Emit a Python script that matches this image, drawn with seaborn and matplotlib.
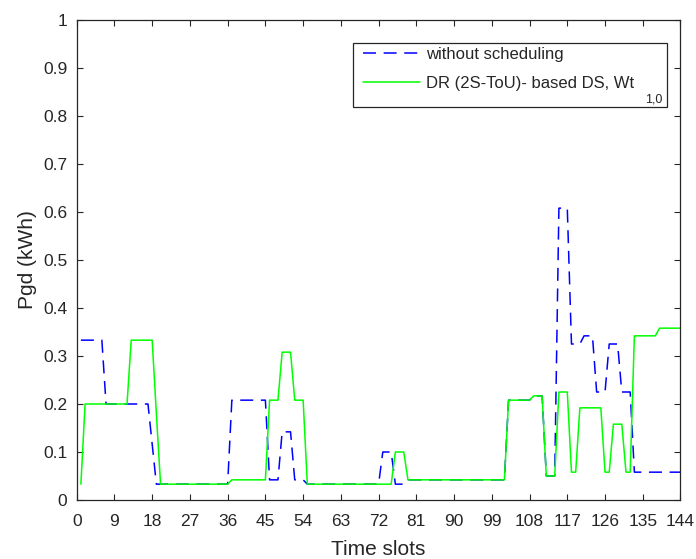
import numpy as np
import pandas as pd
import matplotlib
matplotlib.use("Agg")
import matplotlib.pyplot as plt
from matplotlib.patches import Rectangle
import seaborn as sns

# Time slots (10-minute resolution over one day)
slots = list(range(1, 145))

# Grid power demand without any scheduling (kWh)
pgd_unscheduled = (
    [0.333] * 6 + [0.2] * 11 + [0.117] + [0.033] * 18 + [0.208] * 9
    + [0.042] * 3 + [0.142] * 3 + [0.042] * 3 + [0.033] * 18 + [0.1] * 3
    + [0.033] * 3 + [0.042] * 24 + [0.208] * 6 + [0.217] * 3 + [0.05] * 3
    + [0.608] * 3 + [0.325] * 3 + [0.342] * 3 + [0.225] * 3 + [0.325] * 3
    + [0.225] * 3 + [0.058] * 12
)

# Grid power demand with DR (2S-ToU) based demand scheduling (kWh)
pgd_dr = (
    [0.033] + [0.2] * 11 + [0.333] * 6 + [0.18] + [0.033] * 17 + [0.042] * 9
    + [0.208] * 3 + [0.308] * 3 + [0.208] * 3 + [0.033] * 21 + [0.1] * 3
    + [0.042] * 24 + [0.208] * 6 + [0.217] * 3 + [0.05] * 3 + [0.225] * 3
    + [0.058] * 2 + [0.192] * 6 + [0.058] * 2 + [0.158] * 3 + [0.058] * 2
    + [0.342] * 6 + [0.358] * 6
)

label_unscheduled = "without scheduling"
label_dr = "DR (2S-ToU)- based DS, Wt"
label_dr_sub = "1,0"

x_ticks = list(range(0, 145, 9))
y_ticks = [0, 0.1, 0.2, 0.3, 0.4, 0.5, 0.6, 0.7, 0.8, 0.9, 1]
y_tick_labels = ["0", "0.1", "0.2", "0.3", "0.4", "0.5", "0.6", "0.7", "0.8", "0.9", "1"]

sns.set_theme(style="white")
axis_color = "#262626"
plt.rcParams["font.family"] = ["Liberation Sans", "DejaVu Sans"]

df = pd.DataFrame({"slot": slots, "unsched": pgd_unscheduled, "dr": pgd_dr})

W, H = 696, 559
fig = plt.figure(figsize=(W / 100, H / 100), dpi=100)
ax = fig.add_axes([76.7 / W, 1 - 500 / H, (680.5 - 76.7) / W, (500 - 20) / H])

sns.lineplot(data=df, x="slot", y="unsched", ax=ax, color="#0000ff", lw=1.1,
             linestyle=(0, (8.5, 5)), label=label_unscheduled)
sns.lineplot(data=df, x="slot", y="dr", ax=ax, color="#00ff00", lw=1.1,
             label=label_dr)

ax.set_xlim(0, 144)
ax.set_ylim(0, 1)
ax.set_xticks(x_ticks)
ax.set_yticks(y_ticks)
ax.set_yticklabels(y_tick_labels)
ax.tick_params(direction="in", length=4.5, width=0.8, colors=axis_color,
               labelsize=12.5, top=True, right=True, bottom=True, left=True)
ax.tick_params(axis="x", pad=10)
ax.tick_params(axis="y", pad=6.8)
for sp in ax.spines.values():
    sp.set_visible(True)
    sp.set_color(axis_color)
    sp.set_linewidth(0.9)

ax.set_xlabel("Time slots", fontsize=15, color=axis_color, labelpad=8)
ax.set_ylabel("Pgd (kWh)", fontsize=15, color=axis_color, labelpad=4)

# Legend entries without their own frame; the box is drawn separately
leg = ax.legend(loc="upper left", bbox_to_anchor=(363 / W, 1 - 47 / H),
                bbox_transform=fig.transFigure, borderaxespad=0, borderpad=0,
                frameon=False, fontsize=12, handlelength=3.42,
                handletextpad=0.36, labelspacing=0.84)
for t in leg.get_texts():
    t.set_color(axis_color)

fig.add_artist(Rectangle((353 / W, 1 - 107 / H), (667 - 353) / W, (107 - 43) / H,
                         transform=fig.transFigure, fill=False,
                         edgecolor=axis_color, linewidth=0.9, zorder=5))
fig.text(645 / W, 1 - 103 / H, label_dr_sub, fontsize=9, color=axis_color,
         ha="left", va="baseline")

fig.savefig("out.png", dpi=100)
